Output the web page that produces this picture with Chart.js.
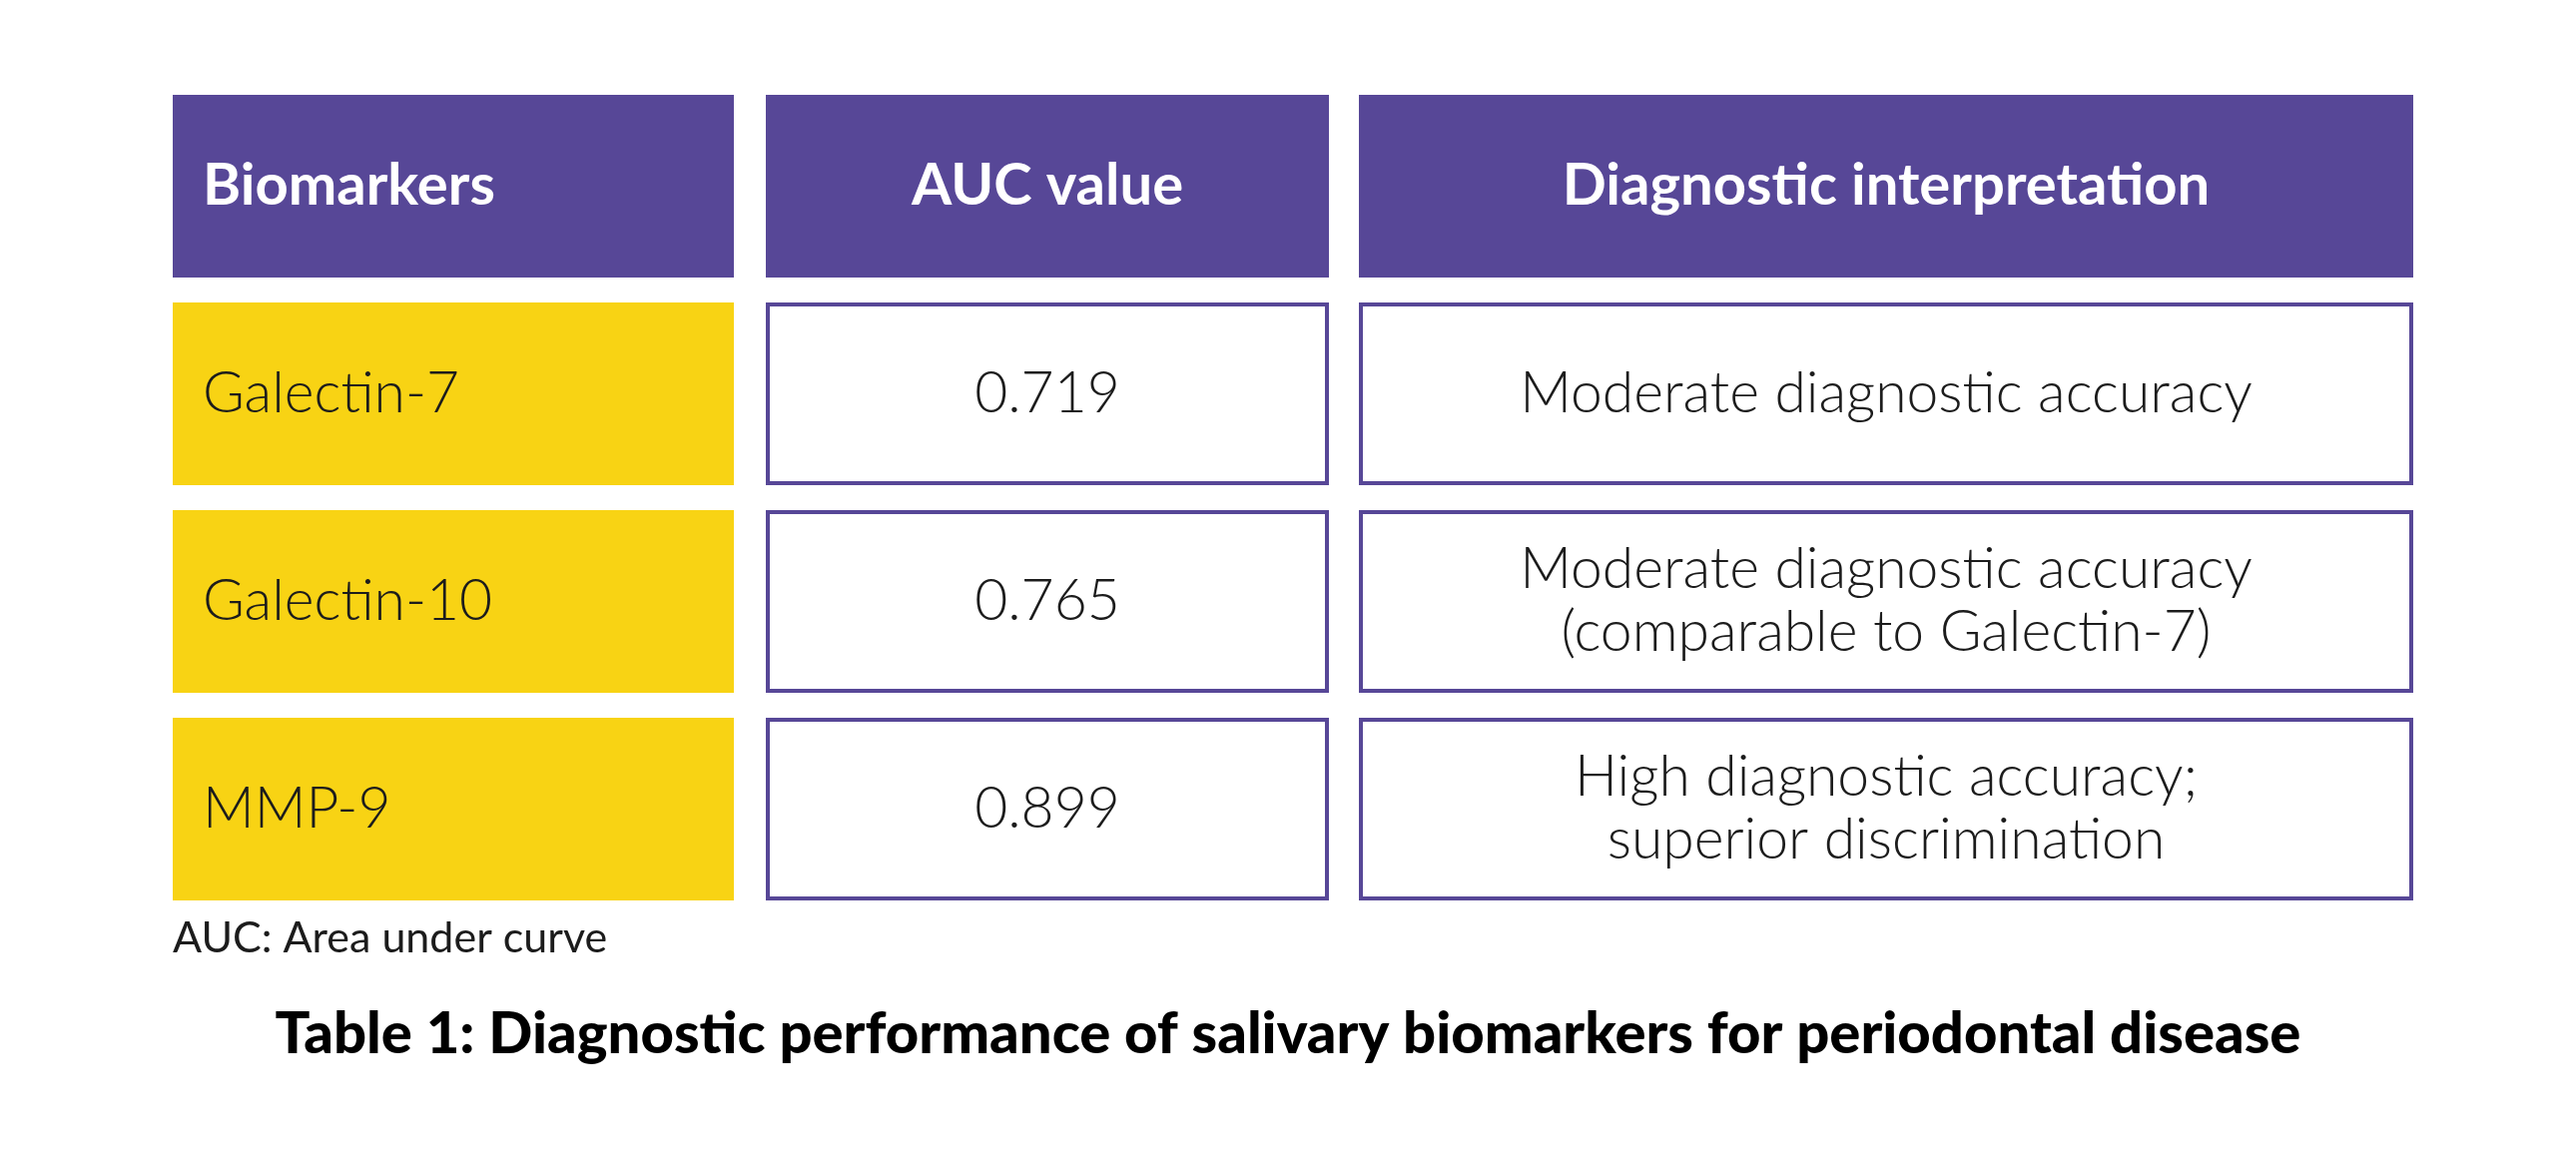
<!DOCTYPE html>
<html lang="en">
<head>
    <meta charset="UTF-8">
    <title>Table 1: Diagnostic performance of salivary biomarkers</title>
    <script src="https://cdn.jsdelivr.net/npm/chart.js"></script>
    <style>
        html, body {
            margin: 0;
            padding: 0;
            background: #ffffff;
        }
        .chart-container {
            position: relative;
            width: 2580px;
            height: 1163px;
        }
    </style>
</head>
<body>
    <div class="chart-container">
        <canvas id="tableChart"></canvas>
    </div>

    <script>
        // Table content
        const headers = ['Biomarkers', 'AUC value', 'Diagnostic interpretation'];
        const biomarkers = ['Galectin-7', 'Galectin-10', 'MMP-9'];
        const aucValues = [0.719, 0.765, 0.899];
        const interpretations = [
            ['Moderate diagnostic accuracy'],
            ['Moderate diagnostic accuracy', '(comparable to Galectin-7)'],
            ['High diagnostic accuracy;', 'superior discrimination']
        ];
        const footnote = 'AUC: Area under curve';
        const caption = 'Table 1: Diagnostic performance of salivary biomarkers for periodontal disease';

        // Layout (pixel ranges of the three columns on a 0..2580 x scale)
        const columnSpans = [[173, 735], [767, 1331], [1361, 2417]];

        const PURPLE = '#574797';
        const YELLOW = '#f8d314';
        const INK = '#1c1c1c';
        const FONT = 'Lato, "Open Sans", sans-serif';

        const rows = ['header'].concat(biomarkers);

        // one dataset per column, one floating bar per row
        const datasets = columnSpans.map((span, c) => ({
            label: headers[c],
            data: rows.map(() => span),
            grouped: false,
            categoryPercentage: 1,
            barPercentage: 0.88,
            backgroundColor: rows.map((r, i) => i === 0 ? PURPLE : (c === 0 ? YELLOW : '#ffffff')),
            borderColor: rows.map((r, i) => (i === 0 || c === 0) ? 'rgba(0,0,0,0)' : PURPLE),
            borderWidth: rows.map((r, i) => (i === 0 || c === 0) ? 0 : 4),
            borderSkipped: false
        }));

        function cellLines(row, col) {
            if (row === 0) return [headers[col]];
            if (col === 0) return [biomarkers[row - 1]];
            if (col === 1) return [aucValues[row - 1].toFixed(3)];
            return interpretations[row - 1];
        }

        // Draws the text inside each cell plus the footnote and caption
        const cellText = {
            id: 'cellText',
            afterDatasetsDraw(chart) {
                const ctx = chart.ctx;
                ctx.save();
                ctx.textBaseline = 'middle';
                chart.data.datasets.forEach((ds, c) => {
                    const meta = chart.getDatasetMeta(c);
                    meta.data.forEach((bar, r) => {
                        const p = bar.getProps(['x', 'y', 'base', 'height'], true);
                        const left = Math.min(p.x, p.base);
                        const right = Math.max(p.x, p.base);
                        const lines = cellLines(r, c);
                        const lineGap = 63;
                        if (r === 0) {
                            ctx.font = '700 58px ' + FONT;
                            ctx.fillStyle = '#ffffff';
                        } else {
                            ctx.font = '300 57px ' + FONT;
                            ctx.fillStyle = INK;
                        }
                        let x;
                        if (c === 0) {
                            ctx.textAlign = 'left';
                            x = left + 30;
                        } else {
                            ctx.textAlign = 'center';
                            x = (left + right) / 2;
                        }
                        const y0 = p.y - (lines.length - 1) * lineGap / 2;
                        lines.forEach((line, k) => ctx.fillText(line, x, y0 + k * lineGap));
                    });
                });

                ctx.textAlign = 'left';
                ctx.textBaseline = 'alphabetic';
                ctx.fillStyle = INK;
                ctx.font = '400 43px ' + FONT;
                ctx.fillText(footnote, 173, 954);

                ctx.textAlign = 'center';
                ctx.fillStyle = '#000000';
                ctx.font = '900 58px ' + FONT;
                ctx.fillText(caption, 1290, 1055);
                ctx.restore();
            }
        };

        const ctx = document.getElementById('tableChart').getContext('2d');
        const chart = new Chart(ctx, {
            type: 'bar',
            data: {
                labels: rows,
                datasets: datasets
            },
            options: {
                indexAxis: 'y',
                responsive: true,
                maintainAspectRatio: false,
                animation: false,
                layout: {
                    padding: { top: 82.5, bottom: 248.5, left: 0, right: 0 }
                },
                plugins: {
                    legend: { display: false },
                    tooltip: { enabled: false }
                },
                scales: {
                    x: { type: 'linear', min: 0, max: 2580, display: false },
                    y: { type: 'category', display: false, offset: true }
                }
            },
            plugins: [cellText]
        });
    </script>
</body>
</html>
